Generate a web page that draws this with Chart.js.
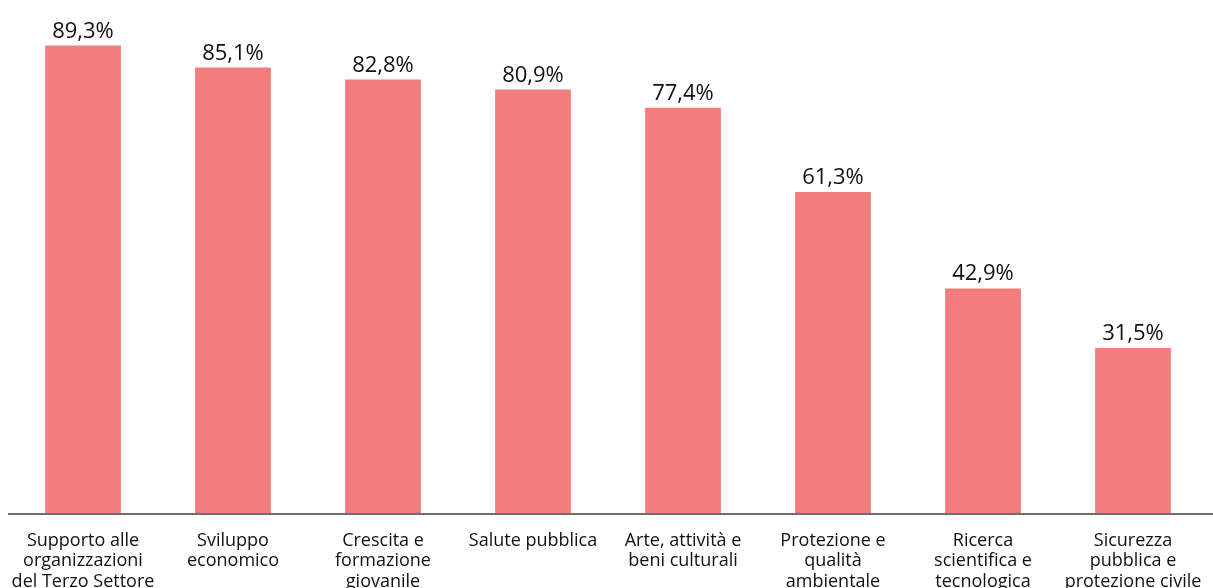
<!DOCTYPE html>
<html>
<head>
<meta charset="utf-8">
<script src="https://cdn.jsdelivr.net/npm/chart.js@4/dist/chart.umd.min.js"></script>
<style>
  html, body { margin: 0; padding: 0; background: #fff; overflow: hidden; }
  #wrap { position: absolute; left: 0; top: 0; width: 1213px; height: 620px; }
</style>
</head>
<body>
<div id="wrap"><canvas id="c"></canvas></div>
<script>
const categories = [
  ["Supporto alle", "organizzazioni", "del Terzo Settore"],
  ["Sviluppo", "economico"],
  ["Crescita e", "formazione", "giovanile"],
  ["Salute pubblica"],
  ["Arte, attività e", "beni culturali"],
  ["Protezione e", "qualità", "ambientale"],
  ["Ricerca", "scientifica e", "tecnologica"],
  ["Sicurezza", "pubblica e", "protezione civile"]
];
const values = [89.3, 85.1, 82.8, 80.9, 77.4, 61.3, 42.9, 31.5];
const valueLabels = ["89,3%", "85,1%", "82,8%", "80,9%", "77,4%", "61,3%", "42,9%", "31,5%"];

const FONT = "'Open Sans', 'Noto Sans', sans-serif";

const valueLabelPlugin = {
  id: 'valueLabels',
  afterDatasetsDraw(chart) {
    const ctx = chart.ctx;
    const meta = chart.getDatasetMeta(0);
    ctx.save();
    ctx.font = "22px " + FONT;
    ctx.fillStyle = "#111111";
    ctx.textAlign = "center";
    ctx.textBaseline = "alphabetic";
    meta.data.forEach((bar, i) => {
      ctx.fillText(valueLabels[i], bar.x, bar.y - 8);
    });
    ctx.restore();
  }
};

const axisLinePlugin = {
  id: 'axisLine',
  afterDraw(chart) {
    const ctx = chart.ctx;
    const y = chart.scales.x.top + 1;
    ctx.save();
    ctx.strokeStyle = '#6e6e6e';
    ctx.lineWidth = 2;
    ctx.beginPath();
    ctx.moveTo(chart.chartArea.left, y);
    ctx.lineTo(chart.width, y);
    ctx.stroke();
    ctx.restore();
  }
};

new Chart(document.getElementById('c'), {
  type: 'bar',
  data: {
    labels: categories,
    datasets: [{
      data: values,
      backgroundColor: '#F27C7C',
      borderWidth: 0,
      barPercentage: 0.505,
      categoryPercentage: 1.0
    }]
  },
  options: {
    responsive: true,
    maintainAspectRatio: false,
    animation: false,
    layout: { padding: { left: 8, right: 5, top: 0, bottom: 0 } },
    plugins: { legend: { display: false }, tooltip: { enabled: false } },
    scales: {
      y: {
        display: false,
        min: 0,
        max: 98
      },
      x: {
        grid: { display: false },
        border: { display: false },
        ticks: {
          color: '#111111',
          font: { family: FONT, size: 18, lineHeight: 1.12 },
          padding: 10,
          maxRotation: 0,
          autoSkip: false
        },
        afterFit(scale) { scale.height = 107; }
      }
    }
  },
  plugins: [valueLabelPlugin, axisLinePlugin]
});
</script>
</body>
</html>
